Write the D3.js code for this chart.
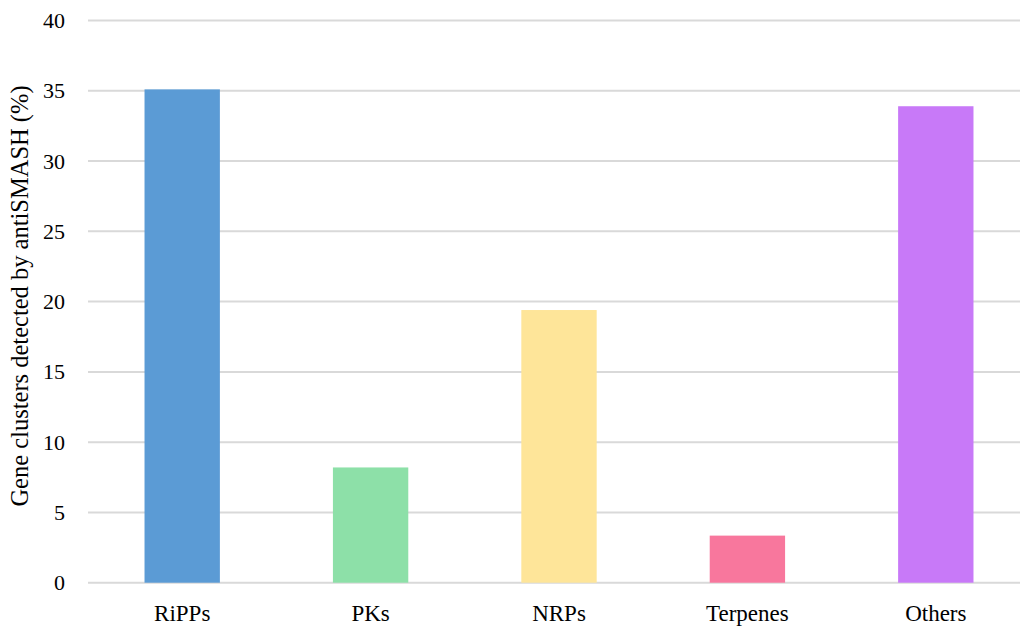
<!DOCTYPE html>
<html>
<head>
<meta charset="utf-8">
<script src="https://cdn.jsdelivr.net/npm/d3@7"></script>
<style>
  html, body { margin: 0; padding: 0; background: #fff; }
  svg { display: block; }
  text { font-family: "Liberation Serif", "Times New Roman", serif; fill: #000; }
</style>
</head>
<body>
<svg id="chart" width="1020" height="627"></svg>
<script>
// Share of biosynthetic gene clusters by class (%)
const categories = ["RiPPs", "PKs", "NRPs", "Terpenes", "Others"];
const values = [35.1, 8.2, 19.4, 3.35, 33.9];
const colors = ["#5B9BD5", "#8DE0A8", "#FEE599", "#F8779D", "#C879F8"];
const yTicks = [0, 5, 10, 15, 20, 25, 30, 35, 40];
const yTitle = "Gene clusters detected by antiSMASH (%)";

const svg = d3.select("#chart");

const plot = { left: 88, right: 1030, top: 20.5, bottom: 582.7 };

const x = d3.scaleBand()
  .domain(categories)
  .range([plot.left, plot.right])
  .paddingInner(0.6)
  .paddingOuter(0.3);

const y = d3.scaleLinear()
  .domain([0, 40])
  .range([plot.bottom, plot.top]);

// horizontal gridlines
svg.append("g")
  .selectAll("line")
  .data(yTicks)
  .join("line")
  .attr("x1", plot.left)
  .attr("x2", 1020)
  .attr("y1", d => y(d))
  .attr("y2", d => y(d))
  .attr("stroke", "#d9d9d9")
  .attr("stroke-width", 2);

// bars
svg.append("g")
  .selectAll("rect")
  .data(categories)
  .join("rect")
  .attr("x", d => x(d))
  .attr("width", x.bandwidth())
  .attr("y", (d, i) => y(values[i]))
  .attr("height", (d, i) => y(0) - y(values[i]))
  .attr("fill", (d, i) => colors[i]);

// y axis labels
const yAxis = d3.axisLeft(y).tickValues(yTicks).tickSize(0).tickPadding(0);
const gy = svg.append("g")
  .attr("transform", "translate(65,0)")
  .call(yAxis);
gy.select(".domain").remove();
gy.selectAll("text")
  .attr("font-family", "Liberation Serif, Times New Roman, serif")
  .attr("font-size", 22)
  .attr("fill", "#000");

// x axis labels
const xAxis = d3.axisBottom(x).tickSize(0).tickPadding(0);
const gx = svg.append("g")
  .call(xAxis);
gx.select(".domain").remove();
gx.selectAll("text")
  .attr("y", 620.5)
  .attr("dy", 0)
  .attr("font-family", "Liberation Serif, Times New Roman, serif")
  .attr("font-size", 23)
  .attr("fill", "#000");

// y axis title
svg.append("text")
  .attr("transform", "translate(28,296) rotate(-90)")
  .attr("text-anchor", "middle")
  .attr("font-size", 24.5)
  .text(yTitle);
</script>
</body>
</html>
